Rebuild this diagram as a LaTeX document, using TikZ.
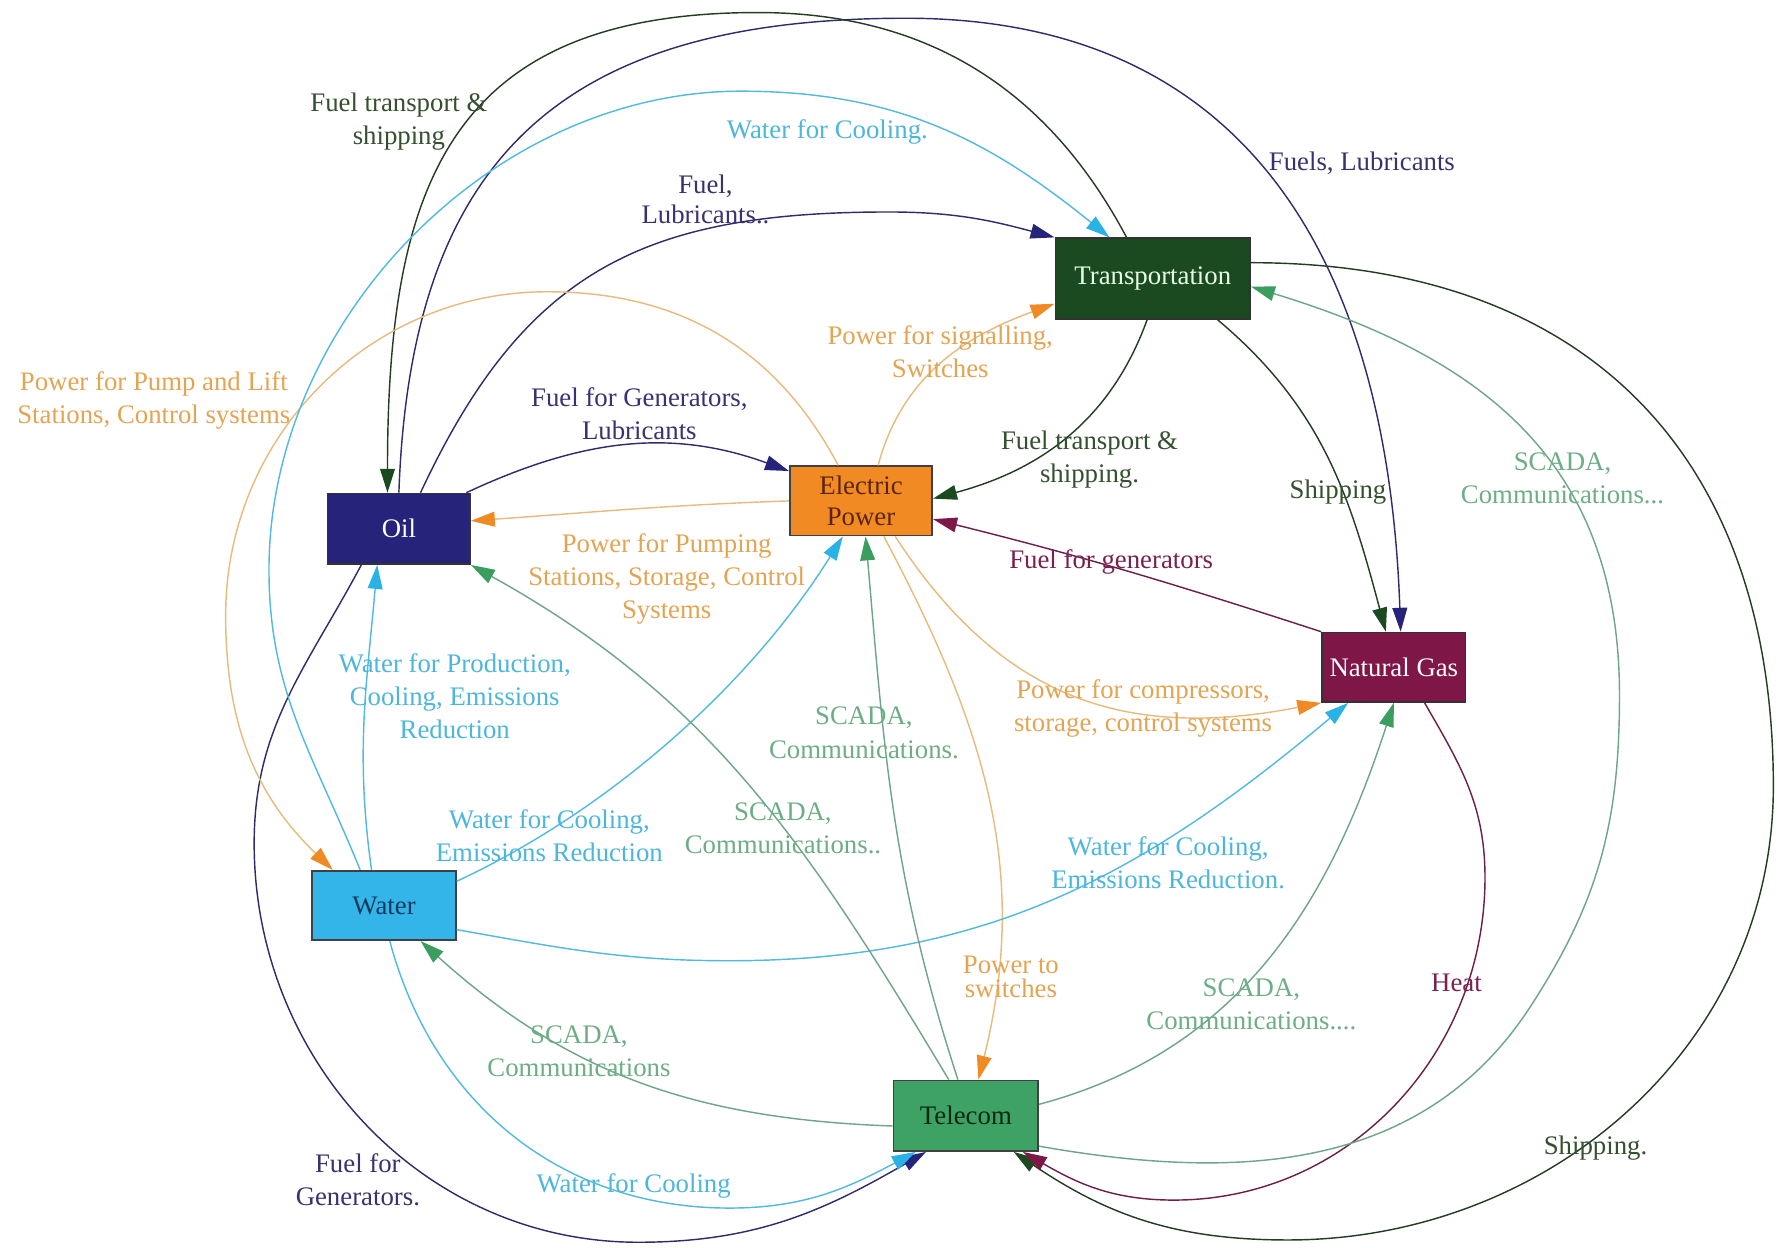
\documentclass[tikz,border=0pt]{standalone}
\usepackage{fontspec}
\setmainfont{Liberation Serif}
\usetikzlibrary{arrows.meta}
\definecolor{oilF}{HTML}{25237A}
\definecolor{oilL}{HTML}{2F2C6B}
\definecolor{oilT}{HTML}{3A3270}
\definecolor{trF}{HTML}{1C4A20}
\definecolor{trL}{HTML}{243C24}
\definecolor{trT}{HTML}{34502E}
\definecolor{epF}{HTML}{F28A24}
\definecolor{epL}{HTML}{E6BC7E}
\definecolor{epA}{HTML}{F08A24}
\definecolor{epT}{HTML}{E3A453}
\definecolor{ngF}{HTML}{7E1648}
\definecolor{ngL}{HTML}{6C2048}
\definecolor{ngT}{HTML}{7A2150}
\definecolor{waF}{HTML}{33B5EA}
\definecolor{waL}{HTML}{52BADF}
\definecolor{waA}{HTML}{2AB2E6}
\definecolor{waT}{HTML}{4DB6DB}
\definecolor{teF}{HTML}{3DA263}
\definecolor{teL}{HTML}{6FA58A}
\definecolor{teA}{HTML}{3C9E5E}
\definecolor{teT}{HTML}{6DAE84}
\definecolor{epTxt}{HTML}{5A2410}
\definecolor{waTxt}{HTML}{123A5C}
\definecolor{teTxt}{HTML}{0C2812}
\tikzset{
  box/.style={rectangle, inner sep=0pt, line width=1.4pt, align=center,
    font=\fontsize{23.5}{27}\selectfont},
  lbl/.style={inner sep=0pt, align=center, font=\fontsize{23.5}{29}\selectfont},
  edge/.style={line width=1.25pt},
  oilE/.style={edge, draw=oilL, -{Triangle[length=21pt,width=13pt,color=oilF]}},
  trE/.style={edge, draw=trL, -{Triangle[length=21pt,width=13pt,color=trF]}},
  epE/.style={edge, draw=epL, -{Triangle[length=21pt,width=13pt,color=epA]}},
  ngE/.style={edge, draw=ngL, -{Triangle[length=21pt,width=13pt,color=ngF]}},
  waE/.style={edge, draw=waL, -{Triangle[length=21pt,width=13pt,color=waA]}},
  teE/.style={edge, draw=teL, -{Triangle[length=21pt,width=13pt,color=teA]}},
}
\begin{document}
\begin{tikzpicture}[x=1pt,y=-1pt]
\useasboundingbox (0,0) rectangle (1568,1095);
\fill[white] (0,0) rectangle (1568,1095);
% nodes
\node[box, fill=trF, draw=black!80, text=white!90!green, minimum width=171pt, minimum height=71pt] (trans) at (1011.5,244.5) {Transportation};
\node[box, fill=epF, draw=black!75, text=epTxt, minimum width=125pt, minimum height=61pt] (ep) at (755.5,439.5) {Electric\\Power};
\node[box, fill=oilF, draw=black!80, text=white, minimum width=125pt, minimum height=62pt] (oil) at (350,464) {Oil};
\node[box, fill=ngF, draw=black!80, text=white!92!pink, minimum width=126pt, minimum height=61pt] (ng) at (1223,585.5) {Natural Gas};
\node[box, fill=waF, draw=black!75, text=waTxt, minimum width=126pt, minimum height=61pt] (water) at (337,794.5) {Water};
\node[box, fill=teF, draw=black!75, text=teTxt, minimum width=127pt, minimum height=62pt] (tel) at (847.5,979) {Telecom};

% Oil edges
\draw[oilE] ([xshift=19pt]oil.north) to[out=65,in=180,looseness=1.15] (780,186) to[out=0,in=165] (trans.north west);
\draw[oilE] ([xshift=-4pt]oil.north east) to[out=25,in=160] ([yshift=-5pt]ep.north west);
\draw[oilE] (oil.north) to[out=88,in=180,looseness=1.25] (795,16) to[out=0,in=92,looseness=1.15] ([xshift=6pt]ng.north);
\draw[oilE] ([xshift=-33pt]oil.south) to[out=242,in=90] (223,740) to[out=270,in=180] (560,1090) to[out=0,in=210] ([xshift=-35pt]tel.south);
% Transportation edges
\draw[trE] ([xshift=-23pt]trans.north) to[out=118,in=0] (665,11) to[out=180,in=90,looseness=1.3] ([xshift=-10pt]oil.north);
\draw[trE] ([xshift=-5pt]trans.south) to[out=250,in=15] ([yshift=2pt]ep.east);
\draw[trE] ([xshift=57pt]trans.south) to[out=-40,in=105] ([xshift=-7pt]ng.north);
\draw[trE] ([yshift=14pt]trans.east) to[out=0,in=90,looseness=1.15] (1556,690) to[out=270,in=0] (1130,1088) to[out=180,in=-34] ([xshift=42pt]tel.south);
% Electric power edges
\draw[epE] ([xshift=15pt]ep.north) to[out=75,in=200] ([yshift=-22pt]trans.west);
\draw[epE] (ep.west) to[out=182,in=4] ([yshift=7pt]oil.east);
\draw[epE] ([xshift=-20pt]ep.north) to[out=118,in=0] (480,256) to[out=180,in=90] (198,540) to[out=270,in=136] ([xshift=-45pt]water.north);
\draw[epE] ([xshift=30pt]ep.south) to[out=-57,in=191,looseness=1.1] (ng.south west);
\draw[epE] ([xshift=20pt]ep.south) to[out=-62,in=76] ([xshift=11pt]tel.north);
% Natural gas edges
\draw[ngE] (ng.north west) to[out=162,in=-14] ([yshift=-16pt]ep.east);
\draw[ngE] ([xshift=27pt]ng.south) to[out=-60,in=90] (1303,770) to[out=270,in=0] (1030,1053) to[out=180,in=-30] ([xshift=50pt]tel.south);
% Water edges
\draw[waE] ([xshift=-21pt]water.north) to[out=112,in=270] (236,500) to[out=90,in=180,looseness=0.95] (650,80) to[out=0,in=141] ([xshift=-38pt]trans.north);
\draw[waE] ([xshift=-11pt]water.north) to[out=98,in=265] ([xshift=-19pt]oil.south);
\draw[waE] ([yshift=-10pt]water.north east) to[out=25,in=238,looseness=0.85] ([xshift=-16pt]ep.south);
\draw[waE] ([yshift=10pt]water.south east) to[out=-10,in=180] (640,843) to[out=0,in=220] ([xshift=-40pt]ng.south);
\draw[waE] ([xshift=5pt]water.south) to[out=-75,in=180] (640,1060) to[out=0,in=208] ([xshift=-44pt]tel.south);
% Telecom edges
\draw[teE] ([xshift=-7pt]tel.north) to[out=108,in=-85] ([xshift=4pt]ep.south);
\draw[teE] ([xshift=-15pt]tel.north) to[out=121,in=-29] (oil.south east);
\draw[teE] ([yshift=-9pt]tel.west) to[out=178,in=-42] ([xshift=32pt]water.south);
\draw[teE] ([yshift=10pt]tel.east) to[out=15,in=252] (ng.south);
\draw[teE] ([yshift=5pt]tel.south east) to[out=-10,in=237] (1343,883) to[out=57,in=270] (1421,610) to[out=90,in=-17,looseness=1.1] ([yshift=-7pt]trans.east);

% labels
\node[lbl, text=oilT, font=\fontsize{23.5}{26}\selectfont] (l1) at (619,175) {Fuel,\\Lubricants..};
\node[lbl, text=oilT] (l2) at (561,363) {Fuel for Generators,\\Lubricants};
\node[lbl, text=oilT] (l3) at (1195,143) {Fuels, Lubricants};
\node[lbl, text=oilT] (l4) at (314,1035) {Fuel for\\Generators.};
\node[lbl, text=trT] (l5) at (350,107) {Fuel transport \&\\shipping};
\node[lbl, text=trT] (l6) at (956,403) {Fuel transport \&\\shipping.};
\node[lbl, text=trT] (l7) at (1174,432) {Shipping};
\node[lbl, text=trT] (l8) at (1400,1007) {Shipping.};
\node[lbl, text=epT] (l9) at (825,309) {Power for signalling,\\Switches};
\node[lbl, text=epT] (l10) at (585,508) {Power for Pumping\\Stations, Storage, Control\\Systems};
\node[lbl, text=epT] (l11) at (135,351) {Power for Pump and Lift\\Stations, Control systems};
\node[lbl, text=epT] (l12) at (1003,622) {Power for compressors,\\storage, control systems};
\node[lbl, text=epT, font=\fontsize{23.5}{21}\selectfont] (l13) at (887,857) {Power to\\switches};
\node[lbl, text=ngT] (l14) at (975,493) {Fuel for generators};
\node[lbl, text=ngT] (l15) at (1278,862) {Heat};
\node[lbl, text=waT] (l16) at (726,116) {Water for Cooling.};
\node[lbl, text=waT] (l17) at (399,611) {Water for Production,\\Cooling, Emissions\\Reduction};
\node[lbl, text=waT] (l18) at (482,733) {Water for Cooling,\\Emissions Reduction};
\node[lbl, text=waT] (l19) at (1025,757) {Water for Cooling,\\Emissions Reduction.};
\node[lbl, text=waT] (l20) at (556,1041) {Water for Cooling};
\node[lbl, text=teT] (l21) at (758,643) {SCADA,\\Communications.};
\node[lbl, text=teT] (l22) at (687,727) {SCADA,\\Communications..};
\node[lbl, text=teT] (l23) at (508,922) {SCADA,\\Communications};
\node[lbl, text=teT] (l24) at (1098,881) {SCADA,\\Communications....};
\node[lbl, text=teT] (l25) at (1371,420) {SCADA,\\Communications...};
\end{tikzpicture}
\end{document}
